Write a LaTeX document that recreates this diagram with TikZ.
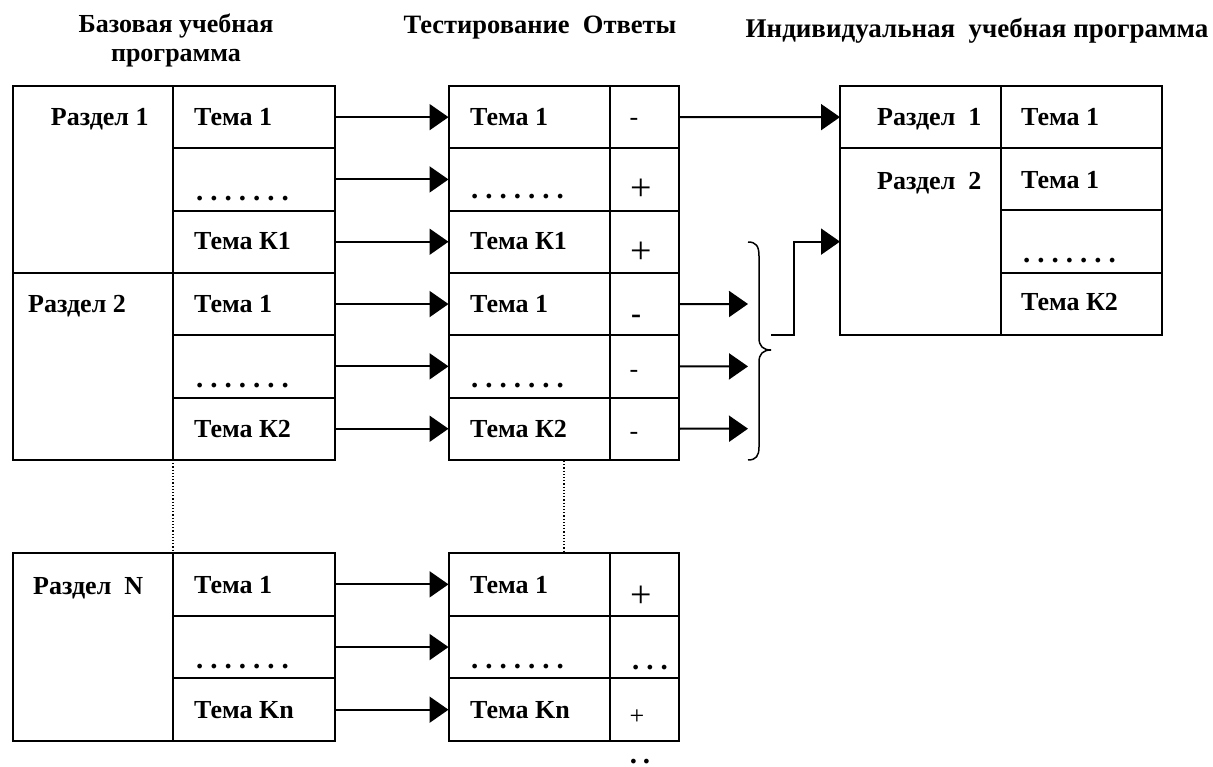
\documentclass[tikz,border=0pt]{standalone}
\usepackage{fontspec}
\setmainfont{Liberation Serif}
\usetikzlibrary{arrows.meta}
\newcommand{\dotrowseven}{.\kern7pt.\kern7pt.\kern7pt.\kern7pt.\kern7pt.\kern7pt.}
\tikzset{
  cell/.style={draw, line width=2pt, inner sep=0pt, outer sep=0pt, anchor=north west},
  lbl/.style={anchor=base west, inner sep=0pt, font=\bfseries\fontsize{26}{30}\selectfont},
  dotlbl/.style={anchor=base west, inner sep=0pt, font=\bfseries\fontsize{29}{30}\selectfont},
  hdr/.style={anchor=base, inner sep=0pt, font=\bfseries\fontsize{26}{30}\selectfont},
  sign/.style={anchor=base, inner sep=0pt, font=\fontsize{26}{30}\selectfont},
  bigsign/.style={anchor=center, inner sep=0pt, font=\fontsize{38}{40}\selectfont},
  conn/.style={line width=2pt, -{Triangle[length=19pt,width=26pt]}},
  bracestyle/.style={line width=1.5pt},
  guide/.style={line width=1.2pt, dash pattern=on 1.2pt off 2pt}
}
\begin{document}
\begin{tikzpicture}[x=1pt,y=-1pt]
\useasboundingbox (0,0) rectangle (1213,767);
% headers
\node[hdr] (h1a) at (176,32.3) {Базовая учебная};
\node[hdr] (h1b) at (176,61.7) {программа};
\node[hdr, font=\bfseries\fontsize{26.5}{30}\selectfont] (h2) at (540,33.3) {Тестирование\ \ Ответы};
\node[hdr, font=\bfseries\fontsize{27}{30}\selectfont] (h3) at (977,38) {Индивидуальная\ \ учебная программа};
% left table
\node[cell, minimum width=160.5pt, minimum height=186.9pt] (ls1) at (12.5,86) {};
\node[cell, minimum width=160.5pt, minimum height=187.1pt] (ls2) at (12.5,272.9) {};
\node[cell, minimum width=161.5pt, minimum height=62.3pt] (lt1) at (173,86) {};
\node[cell, minimum width=161.5pt, minimum height=62.3pt] (lt2) at (173,148.3) {};
\node[cell, minimum width=161.5pt, minimum height=62.3pt] (lt3) at (173,210.6) {};
\node[cell, minimum width=161.5pt, minimum height=62.3pt] (lt4) at (173,272.9) {};
\node[cell, minimum width=161.5pt, minimum height=62.3pt] (lt5) at (173,335.2) {};
\node[cell, minimum width=161.5pt, minimum height=62.5pt] (lt6) at (173,397.5) {};
\node[cell, minimum width=160.5pt, minimum height=188pt] (lsn) at (12.5,553) {};
\node[cell, minimum width=161.5pt, minimum height=62.7pt] (ltn1) at (173,553) {};
\node[cell, minimum width=161.5pt, minimum height=62.7pt] (ltn2) at (173,615.7) {};
\node[cell, minimum width=161.5pt, minimum height=62.6pt] (ltn3) at (173,678.4) {};
% middle table
\node[cell, minimum width=161.5pt, minimum height=62.3pt] (mt1) at (448.5,86) {};
\node[cell, minimum width=161.5pt, minimum height=62.3pt] (mt2) at (448.5,148.3) {};
\node[cell, minimum width=161.5pt, minimum height=62.3pt] (mt3) at (448.5,210.6) {};
\node[cell, minimum width=161.5pt, minimum height=62.3pt] (mt4) at (448.5,272.9) {};
\node[cell, minimum width=161.5pt, minimum height=62.3pt] (mt5) at (448.5,335.2) {};
\node[cell, minimum width=161.5pt, minimum height=62.5pt] (mt6) at (448.5,397.5) {};
\node[cell, minimum width=69pt, minimum height=62.3pt] (ma1) at (610,86) {};
\node[cell, minimum width=69pt, minimum height=62.3pt] (ma2) at (610,148.3) {};
\node[cell, minimum width=69pt, minimum height=62.3pt] (ma3) at (610,210.6) {};
\node[cell, minimum width=69pt, minimum height=62.3pt] (ma4) at (610,272.9) {};
\node[cell, minimum width=69pt, minimum height=62.3pt] (ma5) at (610,335.2) {};
\node[cell, minimum width=69pt, minimum height=62.5pt] (ma6) at (610,397.5) {};
\node[cell, minimum width=161.5pt, minimum height=62.7pt] (mtn1) at (448.5,553) {};
\node[cell, minimum width=161.5pt, minimum height=62.7pt] (mtn2) at (448.5,615.7) {};
\node[cell, minimum width=161.5pt, minimum height=62.6pt] (mtn3) at (448.5,678.4) {};
\node[cell, minimum width=69pt, minimum height=62.7pt] (man1) at (610,553) {};
\node[cell, minimum width=69pt, minimum height=62.7pt] (man2) at (610,615.7) {};
\node[cell, minimum width=69pt, minimum height=62.6pt] (man3) at (610,678.4) {};
% right table
\node[cell, minimum width=161pt, minimum height=62.25pt] (rs1) at (840,86) {};
\node[cell, minimum width=161pt, minimum height=186.75pt] (rs2) at (840,148.25) {};
\node[cell, minimum width=161pt, minimum height=62.25pt] (rt1) at (1001,86) {};
\node[cell, minimum width=161pt, minimum height=62.25pt] (rt2) at (1001,148.25) {};
\node[cell, minimum width=161pt, minimum height=62.25pt] (rt3) at (1001,210.5) {};
\node[cell, minimum width=161pt, minimum height=62.25pt] (rt4) at (1001,272.75) {};
% left texts
\node[lbl] (tls1) at (50.7,125.5) {Раздел 1};
\node[lbl] (tls2) at (28,312.3) {Раздел 2};
\node[lbl] (tlsn) at (33,594) {Раздел\ \ N};
\node[lbl] (tlt1) at (194,125.5) {Тема 1};
\node[dotlbl] (tlt2) at (196,200.5) {\dotrowseven};
\node[lbl] (tlt3) at (194,250) {Тема К1};
\node[lbl] (tlt4) at (194,312.3) {Тема 1};
\node[dotlbl] (tlt5) at (196,387.5) {\dotrowseven};
\node[lbl] (tlt6) at (194,437) {Тема К2};
\node[lbl] (tltn1) at (194,593) {Тема 1};
\node[dotlbl] (tltn2) at (196,668.3) {\dotrowseven};
\node[lbl] (tltn3) at (194,718) {Тема Kn};
% middle texts
\node[lbl] (tmt1) at (470,125.5) {Тема 1};
\node[dotlbl] (tmt2) at (471,199) {\dotrowseven};
\node[lbl] (tmt3) at (470,250) {Тема К1};
\node[lbl] (tmt4) at (470,312.3) {Тема 1};
\node[dotlbl] (tmt5) at (471,387.5) {\dotrowseven};
\node[lbl] (tmt6) at (470,437) {Тема К2};
\node[lbl] (tmtn1) at (470,593) {Тема 1};
\node[dotlbl] (tmtn2) at (471,668.3) {\dotrowseven};
\node[lbl] (tmtn3) at (470,718) {Тема Kn};
% answers
\node[sign] (sa1) at (634,126) {-};
\node[bigsign] (sa2) at (641.7,190) {+};
\node[bigsign] (sa3) at (641.7,252.7) {+};
\node[sign, font=\bfseries\fontsize{30}{32}\selectfont] (sa4) at (636,324) {-};
\node[sign] (sa5) at (634,377.5) {-};
\node[sign] (sa6) at (634,439.5) {-};
\node[bigsign] (san1) at (641.7,597) {+};
\node[dotlbl, anchor=base] (san2) at (650,669) {.\kern7pt.\kern7pt.};
\node[bigsign, font=\fontsize{26}{30}\selectfont] (san3) at (637,717) {+};
\node[dotlbl, anchor=base] (sdots) at (640,763) {.\kern6pt.};
% right texts
\node[lbl] (trs1) at (877,126) {Раздел\ \ 1};
\node[lbl] (trs2) at (877,189.3) {Раздел\ \ 2};
\node[lbl] (trt1) at (1021,126) {Тема 1};
\node[lbl] (trt2) at (1021,188.5) {Тема 1};
\node[dotlbl] (trt3) at (1023,263) {\dotrowseven};
\node[lbl] (trt4) at (1021,311) {Тема К2};
% connectors left -> middle
\foreach \i in {1,...,6} {\draw[conn] (lt\i.east) -- (mt\i.west);}
\foreach \i in {1,2,3} {\draw[conn] (ltn\i.east) -- (mtn\i.west);}
% answer -> right
\draw[conn] (ma1.east) -- (rs1.west);
\coordinate (b4) at (748,304);
\coordinate (b5) at (748,366.4);
\coordinate (b6) at (748,428.7);
\draw[conn] (ma4.east) -- (b4);
\draw[conn] (ma5.east) -- (b5);
\draw[conn] (ma6.east) -- (b6);
% brace
\draw[bracestyle] (748,242) .. controls (756,242) and (759,246) .. (759,256) -- (759,338)
  .. controls (759,346) and (763,350) .. (771,350)
  .. controls (763,350) and (759,354) .. (759,362) -- (759,447)
  .. controls (759,456) and (756,460) .. (748,460);
\coordinate (bc) at (771,335);
\coordinate (bk) at (794,335);
\draw[conn] (bc) -- (bk) |- (rs2.west);
% dotted guides
\draw[guide] (lt6.south west) -- (ltn1.north west);
\coordinate (d1) at (564,461);
\coordinate (d2) at (564,552);
\draw[guide] (d1) -- (d2);
\end{tikzpicture}
\end{document}
